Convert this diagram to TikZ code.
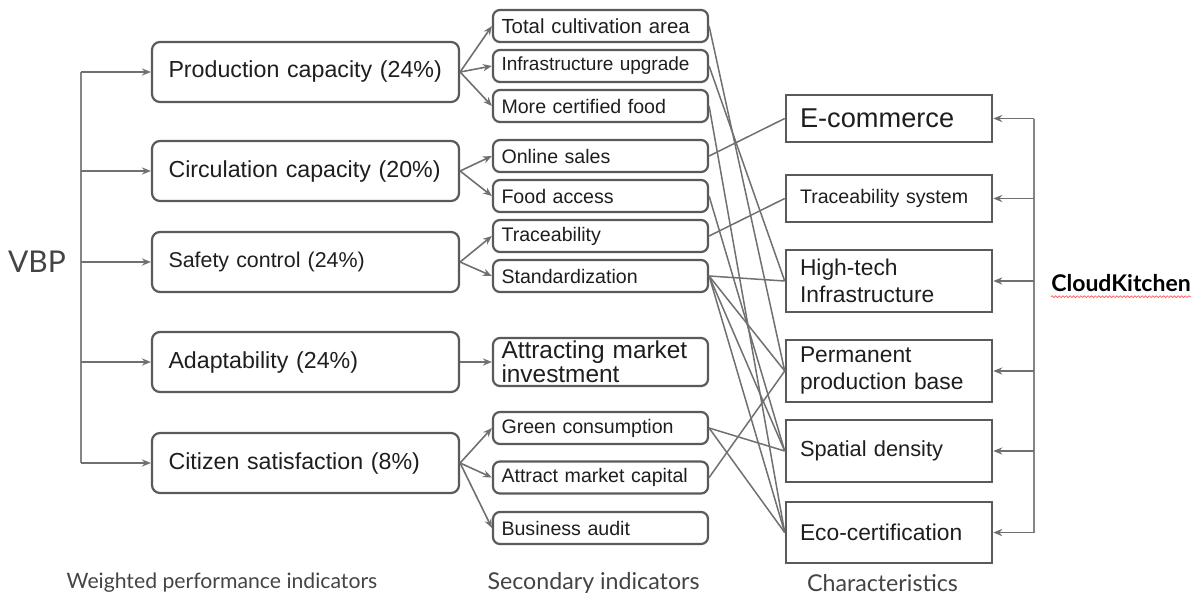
\documentclass[tikz,border=0pt]{standalone}
\usepackage{fontspec}
\setmainfont{Liberation Sans}
\newfontfamily\latofont{Lato}
\usetikzlibrary{arrows.meta,decorations.pathmorphing}
\definecolor{boxline}{HTML}{5A5A5A}
\definecolor{conn}{HTML}{707070}
\definecolor{txt}{HTML}{1E1E1E}
\definecolor{lbl}{HTML}{444444}
\begin{document}
\begin{tikzpicture}[x=0.5pt,y=-0.5pt,
  mainbox/.style={draw=boxline,line width=1.1pt,rounded corners=4pt,minimum width=153.5pt,minimum height=30pt,text width=137pt,inner xsep=8pt,inner ysep=0pt,align=left,font=\fontsize{11.6}{13}\selectfont,text=txt},
  secbox/.style={draw=boxline,line width=1.1pt,rounded corners=3.5pt,minimum width=107.5pt,minimum height=16pt,text width=99pt,inner xsep=4.25pt,inner ysep=0pt,align=left,font=\fontsize{9.8}{11}\selectfont,text=txt},
  charbox/.style={draw=boxline,line width=1.3pt,minimum width=103pt,text width=89pt,inner xsep=7pt,inner ysep=0pt,align=left,font=\fontsize{11.4}{13.5}\selectfont,text=txt},
  arr/.style={draw=conn,line width=0.8pt,-{Stealth[length=4.5pt,width=3.6pt]}},
  link/.style={draw=conn,line width=0.75pt},
  spine/.style={draw=conn!85,line width=0.8pt},
  caption/.style={font=\latofont\fontsize{10.6}{12}\selectfont,text=lbl},
]
\useasboundingbox (0,0) rectangle (1197,605);

% main indicators
\node[mainbox] (m1) at (305.5,72) {Production capacity (24\%)};
\node[mainbox] (m2) at (305.5,171) {Circulation capacity (20\%)};
\node[mainbox,font=\fontsize{10.7}{13}\selectfont] (m3) at (305.5,262) {Safety control (24\%)};
\node[mainbox] (m4) at (305.5,362) {Adaptability (24\%)};
\node[mainbox] (m5) at (305.5,463) {Citizen satisfaction (8\%)};

% secondary indicators
\node[secbox,font=\fontsize{10.2}{11}\selectfont] (s1) at (600.5,26) {Total cultivation area};
\node[secbox,font=\fontsize{9.5}{11}\selectfont] (s2) at (600.5,66) {Infrastructure upgrade};
\node[secbox] (s3) at (600.5,106) {More certified food};
\node[secbox] (s4) at (600.5,156) {Online sales};
\node[secbox] (s5) at (600.5,196) {Food access};
\node[secbox] (s6) at (600.5,236) {Traceability};
\node[secbox] (s7) at (600.5,276) {Standardization};
\node[secbox,minimum height=24pt,font=\fontsize{12.2}{12}\selectfont] (s8) at (600.5,362) {Attracting market\\investment};
\node[secbox] (s9) at (600.5,428) {Green consumption};
\node[secbox] (s10) at (600.5,477.5) {Attract market capital};
\node[secbox] (s11) at (600.5,528) {Business audit};

% characteristics
\node[charbox,minimum height=23.5pt,font=\fontsize{13.6}{15}\selectfont] (c1) at (889,118.5) {E-commerce};
\node[charbox,minimum height=23.5pt,font=\fontsize{9.8}{11}\selectfont] (c2) at (889,198.5) {Traceability system};
\node[charbox,minimum height=31pt] (c3) at (889,281) {High-tech\\Infrastructure};
\node[charbox,minimum height=31pt] (c4) at (889,371) {Permanent\\production base};
\node[charbox,minimum height=31pt,font=\fontsize{10.9}{13}\selectfont] (c5) at (889,451) {Spatial density};
\node[charbox,minimum height=30.5pt] (c6) at (889,532.5) {Eco-certification};

% VBP spine
\node[font=\latofont\fontsize{15}{16}\selectfont,text=lbl] (vbp) at (37,262) {VBP};
\coordinate (v1) at (81,72);
\coordinate (v2) at (81,171);
\coordinate (v3) at (81,262);
\coordinate (v4) at (81,362);
\coordinate (v5) at (81,463);
\draw[spine] (v1) -- (v5);
\foreach \i in {1,...,5} {\draw[arr] (v\i) -- (m\i.west);}

% CloudKitchen spine
\node[font=\latofont\bfseries\fontsize{11.5}{13}\selectfont,text=black,inner sep=0pt] (ck) at (1121,283) {CloudKitchen};
\draw[red!65,line width=0.35pt,decorate,decoration={snake,amplitude=0.45pt,segment length=1.8pt}]
  ([yshift=-2.6pt]ck.base west) -- ([yshift=-2.6pt]ck.base east);
\coordinate (r1) at (1034,118.5);
\coordinate (r2) at (1034,198.5);
\coordinate (r3) at (1034,281);
\coordinate (r4) at (1034,371);
\coordinate (r5) at (1034,451);
\coordinate (r6) at (1034,532.5);
\draw[spine] (r1) -- (r6);
\foreach \i in {1,...,6} {\draw[arr] (r\i) -- (c\i.east);}

% main -> secondary
\draw[arr] (m1.east) -- (s1.west);
\draw[arr] (m1.east) -- (s2.west);
\draw[arr] (m1.east) -- (s3.west);
\draw[arr] (m2.east) -- (s4.west);
\draw[arr] (m2.east) -- (s5.west);
\draw[arr] (m3.east) -- (s6.west);
\draw[arr] (m3.east) -- (s7.west);
\draw[arr] (m4.east) -- (s8.west);
\draw[arr] (m5.east) -- (s9.west);
\draw[arr] (m5.east) -- (s10.west);
\draw[arr] (m5.east) -- (s11.west);

% secondary -> characteristics
\draw[link] (s1.east) -- (c4.west);
\draw[link] (s2.east) -- (c3.west);
\draw[link] (s3.east) -- (c6.west);
\draw[link] (s4.east) -- (c1.west);
\draw[link] (s5.east) -- (c5.west);
\draw[link] (s6.east) -- (c2.west);
\draw[link] (s7.east) -- (c3.west);
\draw[link] (s7.east) -- (c4.west);
\draw[link] (s7.east) -- (c5.west);
\draw[link] (s7.east) -- (c6.west);
\draw[link] (s9.east) -- (c5.west);
\draw[link] (s9.east) -- (c6.west);
\draw[link] (s10.east) -- (c4.west);

% captions
\node[caption] (cap1) at (222,583) {Weighted performance indicators};
\node[caption,font=\latofont\fontsize{11.6}{12}\selectfont] (cap2) at (593.5,583) {Secondary indicators};
\node[caption,font=\latofont\fontsize{11.6}{12}\selectfont] (cap3) at (882.5,583) {Characteristics};
\end{tikzpicture}
\end{document}
